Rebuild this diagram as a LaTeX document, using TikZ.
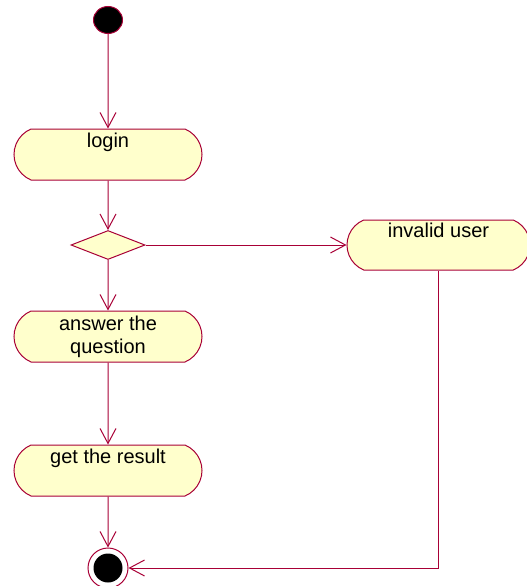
\documentclass[tikz,border=0pt]{standalone}
\usepackage{fontspec}
\setmainfont{Liberation Sans}
\usetikzlibrary{positioning,arrows.meta,shapes.geometric,shapes.misc}
\definecolor{rosered}{RGB}{168,0,54}
\definecolor{roseyellow}{RGB}{255,255,204}

\begin{document}
\begin{tikzpicture}[x=1pt, y=-1pt, on grid, line width=1pt,
    font=\fontsize{20}{23}\selectfont,
    act/.style={rounded rectangle, rounded rectangle arc length=135,
      draw=rosered, fill=roseyellow, minimum width=192pt,
      minimum height=51pt, inner sep=2pt, align=center},
    oneline/.style={text height=14pt, text depth=29pt},
    init/.style={ellipse, draw=rosered, fill=black, minimum width=29pt,
      minimum height=27pt, inner sep=0pt},
    final/.style={circle, draw=rosered, minimum size=40pt, inner sep=0pt,
      path picture={\fill[black] (path picture bounding box.center)
        circle (14.5pt);}},
    choice/.style={diamond, draw=rosered, fill=roseyellow,
      minimum width=74pt, minimum height=29pt, inner sep=0pt},
    flow/.style={draw=rosered, -{Straight Barb[length=15pt,width=16pt]}}]
    \useasboundingbox (0,0) rectangle (527,586);
    \node[init] (start) at (108,20) {};%
    \node[act, oneline] (login) [below=134.5pt of start] {login};%
    \node[choice] (check) [below=90.5pt of login] {};%
    \node[act, oneline, minimum width=187pt, minimum height=50pt] (invalid)
    [right=329pt of check, xshift=1.5pt] {invalid user};%
    \node[act] (answer) [below=91.5pt of check] {answer the\\question};%
    \node[act, oneline] (result) [below=134pt of answer] {get the result};%
    \node[final] (stop) [below=97.5pt of result] {};%
    \path[flow] (start) edge (login)
    (login) edge (check)
    (check) edge (answer)
    edge (invalid)
    (answer) edge (result)
    (result) edge (stop);
    \draw[flow] (invalid) |- (stop);
  \end{tikzpicture}
\end{document}
